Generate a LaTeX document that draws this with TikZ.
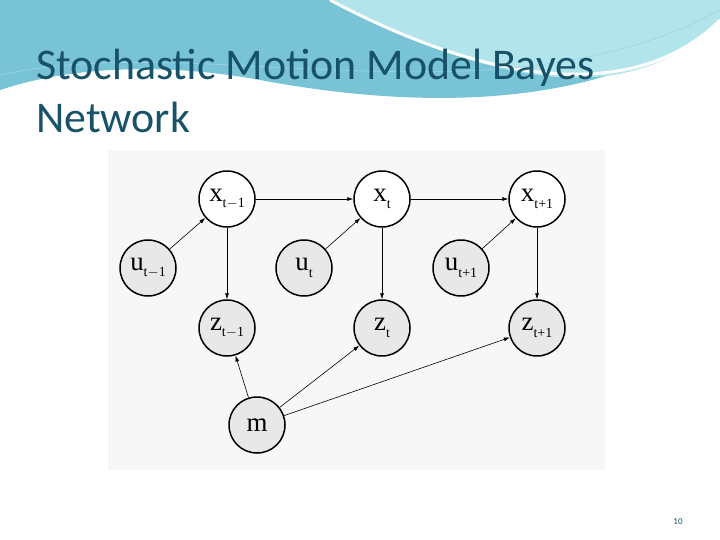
\documentclass[tikz,border=0pt]{standalone}
\usepackage{fontspec}
\setmainfont{Carlito}
\newfontfamily\netfont{Liberation Serif}
\usetikzlibrary{arrows.meta}
\definecolor{titleblue}{RGB}{23,82,104}
\definecolor{waveblue}{RGB}{120,196,214}
\definecolor{wavelight}{RGB}{178,228,236}
\newcommand{\nodelabel}[2]{#1\raisebox{-0.55ex}{\fontsize{14}{14}\selectfont #2}}
\tikzset{
  state/.style={draw, circle, line width=1.5pt, minimum size=56bp, inner sep=0pt, fill=white, font=\netfont\fontsize{27}{28}\selectfont},
  observed/.style={state, fill=gray!18},
  link/.style={-{Latex[length=6bp,width=4bp]}, line width=0.6pt}
}
\begin{document}
\begin{tikzpicture}[x=1bp, y=-1bp]
  \useasboundingbox (0,0) rectangle (720,540);
  \fill[white] (0,0) rectangle (720,540);
  % Wave
  \fill[waveblue] (0,0) -- (720,0) -- (720,20) .. controls (600,110) and (420,110) .. (260,80)
    .. controls (150,60) and (60,70) .. (0,90) -- cycle;
  \fill[wavelight] (330,0) -- (720,0) -- (720,20) .. controls (640,100) and (520,100) .. (330,0);
  \draw[white, line width=3pt] (330,0) .. controls (500,90) and (640,100) .. (720,20);
  \draw[waveblue!70!white, line width=0.6pt] (0,75) .. controls (200,30) and (500,130) .. (720,10);
  % Title
  \node[anchor=base west, inner sep=0pt, text=titleblue, font=\fontsize{44}{50}\selectfont] (title) at (36,80) {Stochastic Motion Model Bayes};
  \node[anchor=base west, inner sep=0pt, text=titleblue, font=\fontsize{44}{50}\selectfont] (title2) at (36,133) {Network};
  % Diagram background
  \fill[gray!6] (108,150) rectangle (605,470);
  % States
  \node[state] (x1) at (227,199) {\nodelabel{x}{t$-$1}};
  \node[state] (x2) at (382,199) {\nodelabel{x}{t}};
  \node[state] (x3) at (537,199) {\nodelabel{x}{t+1}};
  % Controls
  \node[observed] (u1) at (148,268) {\nodelabel{u}{t$-$1}};
  \node[observed] (u2) at (304,268) {\nodelabel{u}{t}};
  \node[observed] (u3) at (461,268) {\nodelabel{u}{t+1}};
  % Measurements
  \node[observed] (z1) at (227,328) {\nodelabel{z}{t$-$1}};
  \node[observed] (z2) at (382,328) {\nodelabel{z}{t}};
  \node[observed] (z3) at (537,328) {\nodelabel{z}{t+1}};
  % Map
  \node[observed] (m) at (257,425) {m};
  % Connections
  \draw[link] (x1) -- (x2);
  \draw[link] (x2) -- (x3);
  \foreach \i in {1,2,3}
  {
    \draw[link] (u\i) -- (x\i);
    \draw[link] (x\i) -- (z\i);
    \draw[link] (m) -- (z\i);
  }
  % Page number
  \node[text=titleblue, font=\fontsize{9}{10}\selectfont] (page) at (678,522) {10};
\end{tikzpicture}
\end{document}
